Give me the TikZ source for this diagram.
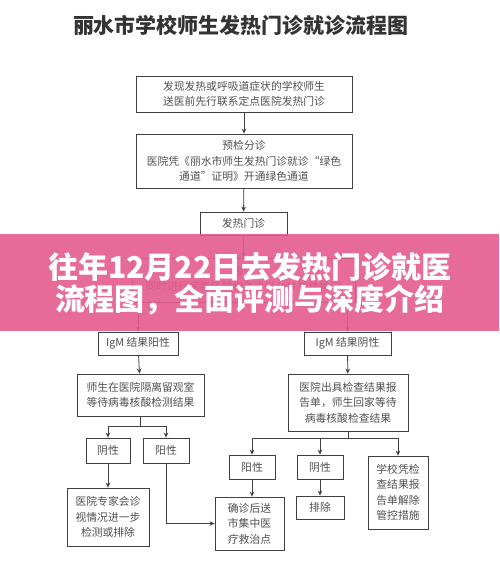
\documentclass[tikz,border=0pt]{standalone}
\usepackage{fontspec}
\setmainfont{Noto Sans CJK SC}
\usetikzlibrary{arrows.meta}
\definecolor{txtcol}{HTML}{505050}
\definecolor{lncol}{HTML}{404040}
\definecolor{titlecol}{HTML}{333333}
\definecolor{bannercol}{RGB}{229,92,142}
\begin{document}
\begin{tikzpicture}[x=1pt,y=-1pt,
  box/.style={draw=lncol, line width=0.8pt, text=txtcol, font=\fontsize{10.8}{15.5}\selectfont, align=center, inner sep=0pt, fill=white},
  arr/.style={draw=lncol, line width=0.8pt, -{Stealth[length=5pt,width=4.5pt]}},
  plainln/.style={draw=lncol, line width=0.8pt}]
\useasboundingbox[fill=white] (0,0) rectangle (499,566);

\node[text=titlecol, font=\fontsize{21}{24}\selectfont\bfseries] (title) at (241,25) {丽水市学校师生发热门诊就诊流程图};

\node[box, minimum width=216pt, minimum height=36pt] (b1) at (244,94) {发现发热或呼吸道症状的学校师生\\送医前先行联系定点医院发热门诊};
\node[box, minimum width=216pt, minimum height=54pt] (b2) at (244,161) {预检分诊\\医院凭《丽水市师生发热门诊就诊“绿色\\通道”证明》开通绿色通道};
\node[box, minimum width=87pt, minimum height=23pt] (b3) at (243.5,223.5) {发热门诊};
\node[box, minimum width=223pt, minimum height=44pt] (b4) at (243.5,280) {接诊\\同时进行病毒核酸和血清学 IgM 抗体检测};
\node[box, minimum width=80pt, minimum height=23pt] (b5) at (138,343.5) {IgM 结果阳性};
\node[box, minimum width=87pt, minimum height=23pt] (b6) at (347.5,343.5) {IgM 结果阴性};
\node[box, minimum width=127pt, minimum height=42pt] (b7) at (140.5,395) {师生在医院隔离留观室\\等待病毒核酸检测结果};
\node[box, minimum width=120pt, minimum height=57pt] (b8) at (348,402.5) {医院出具检查结果报\\告单，师生回家等待\\病毒核酸检查结果};
\node[box, minimum width=44pt, minimum height=25pt] (b9) at (108,450.5) {阴性};
\node[box, minimum width=46pt, minimum height=25pt] (b10) at (166,450.5) {阳性};
\node[box, minimum width=82pt, minimum height=58pt] (b11) at (108,517) {医院专家会诊\\视情况进一步\\检测或排除};
\node[box, minimum width=46pt, minimum height=24pt] (b12) at (252,467) {阳性};
\node[box, minimum width=46pt, minimum height=24pt] (b13) at (320,467) {阴性};
\node[box, minimum width=60pt, minimum height=73pt] (b14) at (398,492.5) {学校凭检\\查结果报\\告单解除\\管控措施};
\node[box, minimum width=69pt, minimum height=53pt] (b15) at (249.5,523.5) {确诊后送\\市集中医\\疗救治点};
\node[box, minimum width=48pt, minimum height=23pt] (b16) at (320,507.5) {排除};

\coordinate (j1) at (140.5,426);
\coordinate (j2) at (348,438);

\draw[arr] (b1) -- (b2);
\draw[arr] (b2) -- (b3);
\draw[arr] (b3) -- (b4);
\draw[arr] (b4.south -| b5.north) -- (b5.north);
\draw[arr] (b4.south -| b6.north) -- (b6.north);
\draw[arr] (b5) -- (b7);
\draw[arr] (b6) -- (b8);
\draw[plainln] (b7.south -| j1) -- (j1);
\draw[arr] (j1) -| (b9.north);
\draw[arr] (j1) -| (b10.north);
\draw[arr] (b9) -- (b11);
\draw[arr] (b10.south) |- (b15.west);
\draw[plainln] (b8.south) -- (j2);
\draw[arr] (j2) -| (b12.north);
\draw[arr] (j2) -| (b13.north);
\draw[arr] (j2) -| (b14.north);
\draw[arr] (b12.south) -- (b12.south |- b15.north);
\draw[arr] (b13) -- (b16);

\fill[bannercol, opacity=0.9] (0,234) rectangle (499,331);
\node[text=white, font=\fontsize{30}{33}\selectfont\bfseries] (t1) at (250,267) {往年12月22日去发热门诊就医};
\node[text=white, font=\fontsize{30}{33}\selectfont\bfseries] (t2) at (250,300) {流程图，全面评测与深度介绍};
\end{tikzpicture}
\end{document}
